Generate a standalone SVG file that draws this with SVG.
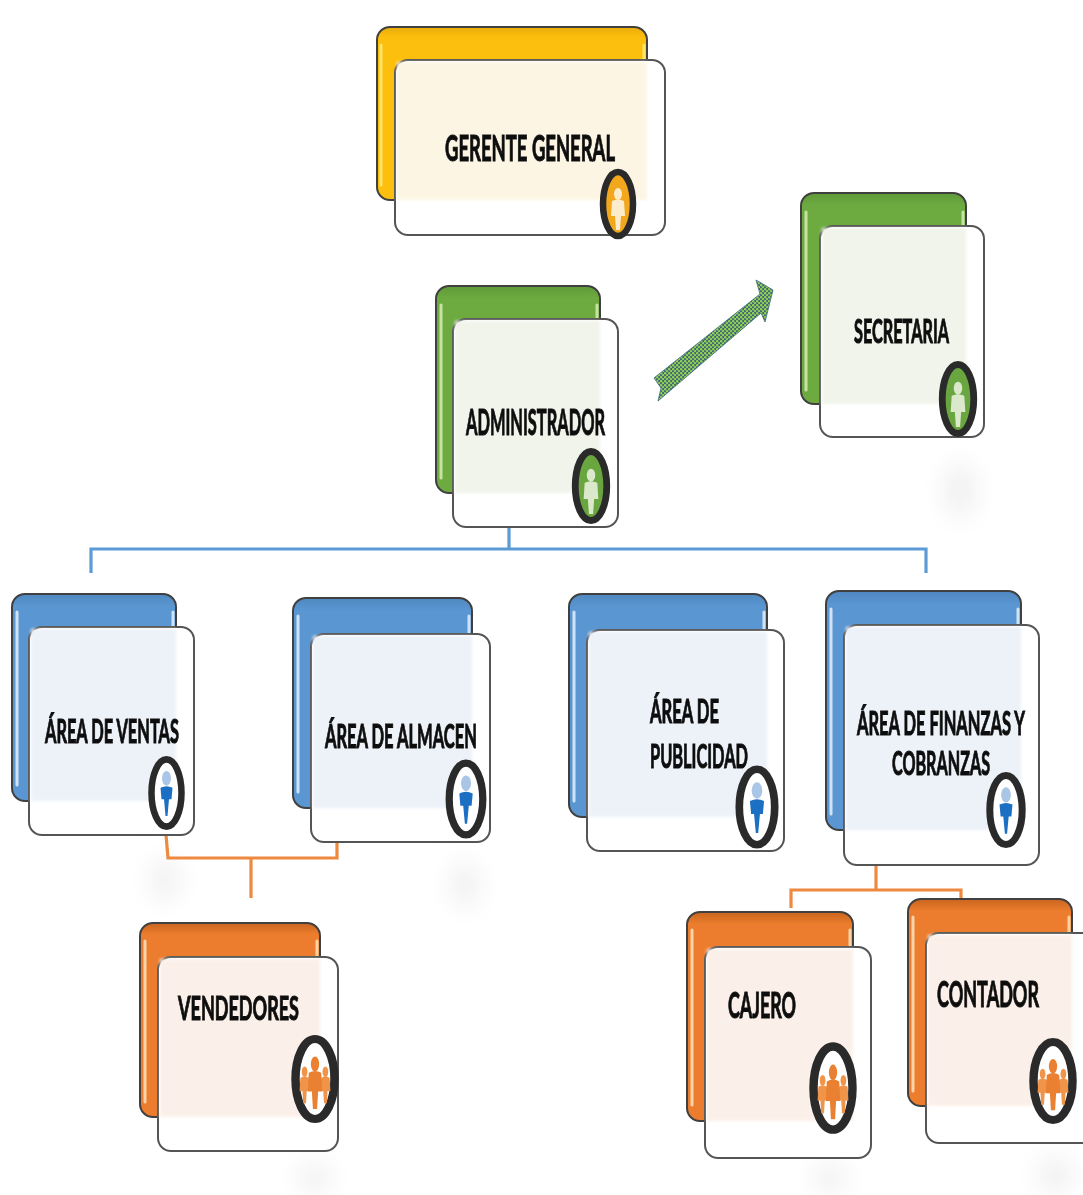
<svg xmlns="http://www.w3.org/2000/svg" width="1083" height="1195" viewBox="0 0 1083 1195">
<style>
.back{stroke:#3f3f3f;stroke-width:2}
.front{fill:#fff;stroke:#555;stroke-width:2}
.y{fill:url(#gy)}.g{fill:url(#gg)}.b{fill:url(#gb)}.o{fill:url(#go)}
.ty{fill:#fdf5e4}.tg{fill:#f1f4ea}.tb{fill:#edf2f9}.to{fill:#fbf0e9}
.hl{fill:none;stroke-width:3;stroke-linecap:round}
.label{font-family:Lato,"Open Sans","Liberation Sans",sans-serif;font-weight:700;fill:#111;stroke:#111;stroke-width:1.1}
.ring{fill:#fff;stroke:#2b2b2b;stroke-width:6.5}
.conn{fill:none;stroke-width:3.2}
</style>
<defs>
<linearGradient id="gy" x1="0" y1="0" x2="0" y2="1"><stop offset="0" stop-color="#e8ac10"/><stop offset=".06" stop-color="#fdbf0a"/></linearGradient>
<linearGradient id="gg" x1="0" y1="0" x2="0" y2="1"><stop offset="0" stop-color="#5f9a38"/><stop offset=".06" stop-color="#6dab40"/></linearGradient>
<linearGradient id="gb" x1="0" y1="0" x2="0" y2="1"><stop offset="0" stop-color="#4f88c0"/><stop offset=".06" stop-color="#5a96d2"/></linearGradient>
<linearGradient id="go" x1="0" y1="0" x2="0" y2="1"><stop offset="0" stop-color="#c9651f"/><stop offset=".06" stop-color="#ed7d2e"/></linearGradient>
<filter id="soft" x="-5%" y="-5%" width="110%" height="110%"><feGaussianBlur stdDeviation="0.6"/></filter>
<filter id="tint" x="-5%" y="-5%" width="110%" height="110%"><feGaussianBlur stdDeviation="1.5"/></filter>
<filter id="blob" x="-100%" y="-100%" width="300%" height="300%"><feGaussianBlur stdDeviation="12"/></filter>
<pattern id="dots" width="4" height="4" patternUnits="userSpaceOnUse"><rect width="4" height="4" fill="#3a6a7a"/><circle cx="1.2" cy="1.2" r="1.25" fill="#97d050"/><circle cx="3.2" cy="3.2" r="1.25" fill="#97d050"/></pattern>
<g id="person"><ellipse cx="0" cy="-14" rx="4" ry="6"/><path d="M-6-7Q0-10 6-7L7 8H3L2 22H-2L-3 8H-7Z"/></g>
<g id="badge-y"><ellipse rx="15" ry="32" fill="#f2a71f" stroke="#2b2b2b" stroke-width="6.5"/><g transform="translate(0,4)" fill="#fdeccb"><use href="#person"/></g></g>
<g id="badge-g"><ellipse rx="15" ry="32" fill="#6aa63f" stroke="#2b2b2b" stroke-width="6.5"/><g transform="translate(0,4)" fill="#dbe8cc"><use href="#person"/></g></g>
<g id="badge-b"><ellipse rx="15" ry="32" class="ring"/><ellipse cy="-14" rx="4.500" ry="7" fill="#a9c6e6"/><path d="M-6-5Q0-8 6-5L5 6H2.500L1 22H-1L-2.500 6H-5Z" fill="#1f6fc4"/></g>
<g id="badge-o"><ellipse rx="15" ry="32" class="ring"/><g fill="#f0944a"><use href="#person" transform="translate(-8,4) scale(.55,.7)"/><use href="#person" transform="translate(8,4) scale(.55,.7)"/></g><g fill="#ea8130"><use href="#person" transform="translate(0,2) scale(.8,1)"/></g></g>
</defs>
<rect width="1083" height="1195" fill="#fff"/>
<g filter="url(#blob)" fill="#f0f0f0">
<ellipse cx="165" cy="880" rx="14" ry="22"/><ellipse cx="465" cy="885" rx="14" ry="24"/><ellipse cx="960" cy="490" rx="16" ry="28"/><ellipse cx="315" cy="1178" rx="16" ry="16"/><ellipse cx="830" cy="1178" rx="16" ry="16"/><ellipse cx="1055" cy="1175" rx="18" ry="18"/>
</g>
<g id="connectors">
<g filter="url(#soft)">
<path class="conn" stroke="#5b9bd5" d="M91 573V549H926V573M509 500V549"/>
<path class="conn" stroke="#ed8a3f" d="M166 835L168 858H337V835M251 858V898"/>
<path class="conn" stroke="#ed8a3f" d="M876 863V890M791 908V890H961V900"/>
</g>
<polygon fill="url(#dots)" stroke="#3a6a7a" stroke-width=".8" points="654,378 760,294 756,280 773,290 765,322 761,313 658,401 661,388"/>
</g>
<g filter="url(#soft)">
<g id="gerente-general">
<rect class="back y" x="377" y="27" width="270" height="173" rx="13"/>
<path class="hl" stroke="#ffe566" d="M381 45V185M644 45V62"/>
<rect class="front" x="395" y="60" width="270" height="175" rx="13"/>
<rect class="ty" filter="url(#tint)" x="397" y="62" width="250" height="138"/>
<text class="label" transform="translate(445,161) scale(.5,1)" font-size="37" textLength="340" lengthAdjust="spacingAndGlyphs">GERENTE GENERAL</text>
<use href="#badge-y" transform="translate(618,204)"/>
</g>
<g id="administrador">
<rect class="back g" x="436" y="286" width="164" height="207" rx="13"/>
<path class="hl" stroke="#c7e3a4" d="M441 305V478M597 305V318"/>
<rect class="front" x="453" y="319" width="165" height="208" rx="13"/>
<rect class="tg" filter="url(#tint)" x="455" y="321" width="145" height="172"/>
<text class="label" transform="translate(466,435) scale(.5,1)" font-size="36" textLength="278" lengthAdjust="spacingAndGlyphs">ADMINISTRADOR</text>
<use href="#badge-g" transform="translate(591,486) scale(1.05,1.08)"/>
</g>
<g id="secretaria">
<rect class="back g" x="801" y="193" width="165" height="211" rx="13"/>
<path class="hl" stroke="#c7e3a4" d="M806 212V390M963 212V225"/>
<rect class="front" x="820" y="226" width="164" height="211" rx="13"/>
<rect class="tg" filter="url(#tint)" x="822" y="228" width="144" height="176"/>
<text class="label" transform="translate(854,343) scale(.5,1)" font-size="33" textLength="190" lengthAdjust="spacingAndGlyphs">SECRETARIA</text>
<use href="#badge-g" transform="translate(958,399) scale(1.05,1.08)"/>
</g>
<g id="area-ventas">
<rect class="back b" x="12" y="594" width="164" height="207" rx="13"/>
<path class="hl" stroke="#cfe3f7" d="M17 612V785M173 612V626"/>
<rect class="front" x="29" y="627" width="165" height="208" rx="13"/>
<rect class="tb" filter="url(#tint)" x="31" y="629" width="145" height="172"/>
<text class="label" transform="translate(45,743) scale(.5,1)" font-size="33" textLength="268" lengthAdjust="spacingAndGlyphs">ÁREA DE VENTAS</text>
<use href="#badge-b" transform="translate(166.500,793) scale(1,1.05)"/>
</g>
<g id="area-almacen">
<rect class="back b" x="293" y="598" width="179" height="210" rx="13"/>
<path class="hl" stroke="#cfe3f7" d="M298 616V792M469 616V633"/>
<rect class="front" x="311" y="634" width="179" height="208" rx="13"/>
<rect class="tb" filter="url(#tint)" x="313" y="636" width="159" height="172"/>
<text class="label" transform="translate(325,748) scale(.5,1)" font-size="33" textLength="304" lengthAdjust="spacingAndGlyphs">ÁREA DE ALMACEN</text>
<use href="#badge-b" transform="translate(466,799) scale(1.12,1.12)"/>
</g>
<g id="area-publicidad">
<rect class="back b" x="569" y="594" width="198" height="223" rx="13"/>
<path class="hl" stroke="#cfe3f7" d="M574 612V801M764 612V629"/>
<rect class="front" x="587" y="630" width="197" height="221" rx="13"/>
<rect class="tb" filter="url(#tint)" x="589" y="632" width="178" height="185"/>
<text class="label" transform="translate(650,723) scale(.5,1)" font-size="33" textLength="138" lengthAdjust="spacingAndGlyphs">ÁREA DE</text>
<text class="label" transform="translate(650,768) scale(.5,1)" font-size="33" textLength="196" lengthAdjust="spacingAndGlyphs">PUBLICIDAD</text>
<use href="#badge-b" transform="translate(757,807) scale(1.18,1.18)"/>
</g>
<g id="area-finanzas">
<rect class="back b" x="826" y="591" width="195" height="239" rx="13"/>
<path class="hl" stroke="#cfe3f7" d="M831 609V814M1018 609V624"/>
<rect class="front" x="844" y="625" width="195" height="240" rx="13"/>
<rect class="tb" filter="url(#tint)" x="846" y="627" width="175" height="203"/>
<text class="label" transform="translate(857,735) scale(.5,1)" font-size="33" textLength="336" lengthAdjust="spacingAndGlyphs">ÁREA DE FINANZAS Y</text>
<text class="label" transform="translate(892,775) scale(.5,1)" font-size="33" textLength="196" lengthAdjust="spacingAndGlyphs">COBRANZAS</text>
<use href="#badge-b" transform="translate(1006,810) scale(1.08,1.08)"/>
</g>
<g id="vendedores">
<rect class="back o" x="140" y="923" width="180" height="194" rx="13"/>
<path class="hl" stroke="#fbd3a8" d="M145 941V1102M317 941V956"/>
<rect class="front" x="158" y="957" width="180" height="194" rx="13"/>
<rect class="to" filter="url(#tint)" x="160" y="959" width="160" height="158"/>
<text class="label" transform="translate(178,1020) scale(.5,1)" font-size="33" textLength="242" lengthAdjust="spacingAndGlyphs">VENDEDORES</text>
<use href="#badge-o" transform="translate(315,1079) scale(1.3,1.25)"/>
</g>
<g id="cajero">
<rect class="back o" x="687" y="912" width="166" height="209" rx="13"/>
<path class="hl" stroke="#fbd3a8" d="M692 930V1105M850 930V946"/>
<rect class="front" x="705" y="947" width="166" height="211" rx="13"/>
<rect class="to" filter="url(#tint)" x="707" y="949" width="146" height="172"/>
<text class="label" transform="translate(728,1018) scale(.5,1)" font-size="37" textLength="136" lengthAdjust="spacingAndGlyphs">CAJERO</text>
<use href="#badge-o" transform="translate(833,1088) scale(1.3,1.3)"/>
</g>
<g id="contador">
<rect class="back o" x="908" y="899" width="164" height="207" rx="13"/>
<path class="hl" stroke="#fbd3a8" d="M913 917V1091M1069 917V932"/>
<rect class="front" x="926" y="933" width="175" height="210" rx="13"/>
<rect class="to" filter="url(#tint)" x="928" y="935" width="144" height="171"/>
<text class="label" transform="translate(937,1007) scale(.5,1)" font-size="37" textLength="204" lengthAdjust="spacingAndGlyphs">CONTADOR</text>
<use href="#badge-o" transform="translate(1053,1081) scale(1.3,1.22)"/>
</g>
</g>
</svg>
